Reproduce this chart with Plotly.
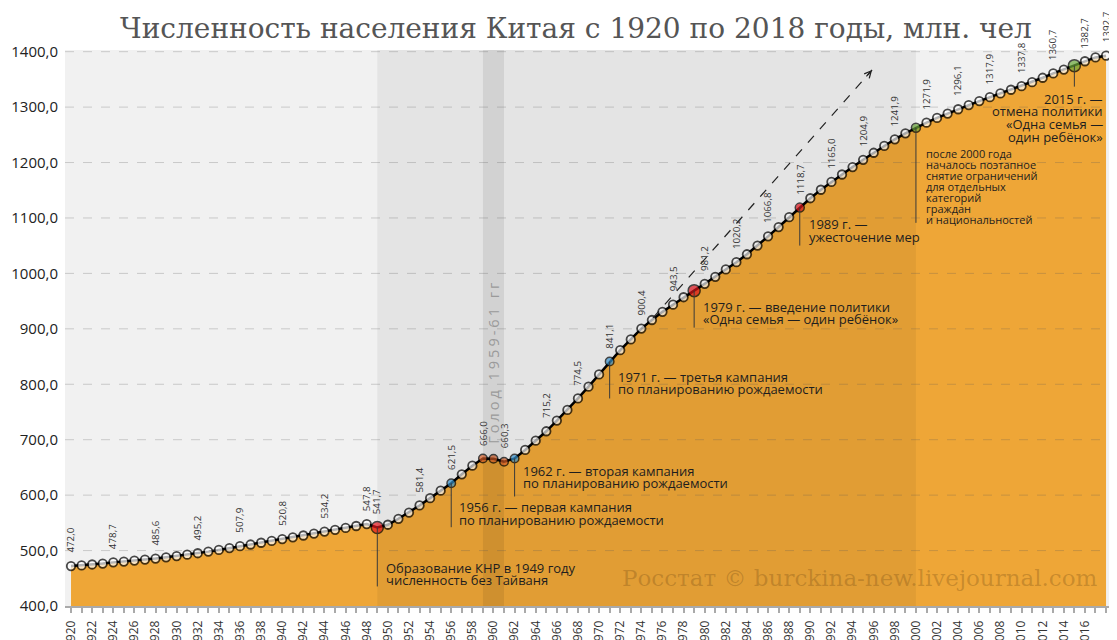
import plotly.graph_objects as go

# ---------------- data ----------------
years = list(range(1920, 2019))
population = [
    472.0, 473.2, 474.9, 476.6, 478.7, 480.2, 481.9, 483.7, 485.6, 487.8,   # 1920-1929
    490.1, 492.5, 495.2, 498.1, 501.2, 504.5, 507.9, 510.9, 514.1, 517.4,   # 1930-1939
    520.8, 523.9, 527.2, 530.6, 534.2, 537.5, 540.9, 544.3, 547.8, 541.7,   # 1940-1949
    546.6, 557.3, 568.6, 581.4, 594.6, 608.0, 621.5, 637.6, 653.1, 666.0,   # 1950-1959
    665.6, 660.3, 666.1, 681.5, 698.2, 715.2, 734.5, 753.8, 774.5, 795.6,   # 1960-1969
    817.7, 841.1, 861.5, 880.9, 900.4, 915.9, 930.6, 943.5, 957.0, 968.9,   # 1970-1979
    981.2, 993.8, 1007.2, 1020.2, 1034.5, 1050.2, 1066.8, 1083.6, 1101.5, 1118.7,  # 1980-1989
    1135.6, 1150.9, 1165.0, 1178.4, 1191.8, 1204.9, 1217.6, 1229.9, 1241.9, 1252.6,  # 1990-1999
    1262.6, 1271.9, 1280.4, 1288.4, 1296.1, 1303.7, 1310.8, 1317.9, 1324.7, 1331.3,  # 2000-2009
    1337.8, 1345.0, 1352.9, 1360.7, 1367.7, 1374.8, 1382.7, 1389.6, 1392.7,          # 2010-2018
]
label_years = [1920, 1924, 1928, 1932, 1936, 1940, 1944, 1948, 1949, 1953, 1956,
               1959, 1961, 1965, 1968, 1971, 1974, 1977, 1980, 1983, 1986, 1989,
               1992, 1995, 1998, 2001, 2004, 2007, 2010, 2013, 2016, 2018]
y_ticks = [400, 500, 600, 700, 800, 900, 1000, 1100, 1200, 1300, 1400]
y_tick_text = ["400,0", "500,0", "600,0", "700,0", "800,0", "900,0", "1000,0",
               "1100,0", "1200,0", "1300,0", "1400,0"]
x_tick_years = list(range(1920, 2019))

title_text = "Численность населения Китая с 1920 по 2018 годы, млн. чел"
watermark = "Росстат © burckina-new.livejournal.com"
famine_years = [1959, 1961]
famine_label = "Голод 1959-61 гг"
prc_period = [1949, 2000]

event_years = [1949, 1956, 1962, 1971, 1979, 1989, 2000, 2015]
event_texts = [
    ["Образование КНР в 1949 году", "численность без Тайваня"],
    ["1956 г. — первая кампания", "по планированию рождаемости"],
    ["1962 г. — вторая кампания", "по планированию рождаемости"],
    ["1971 г. — третья кампания", "по планированию рождаемости"],
    ["1979 г. — введение политики", "«Одна семья — один ребёнок»"],
    ["1989 г. —", "ужесточение мер"],
    ["после 2000 года", "началось поэтапное", "снятие ограничений",
     "для отдельных", "категорий", "граждан", "и национальностей"],
    ["2015 г. —", "отмена политики", "«Одна семья —", "один ребёнок»"],
]
trend_arrow = [(1975.1, 919.7), (1995.85, 1367.0)]

# ---------------- style / layout ----------------
# the page body adds an 8px offset; figure sized so the plot sits where the reference has it
W, H = 1101, 632
M_L, M_R, M_T, M_B = 57, 0, 42, 34
X_RANGE = [1919.43, 2018.28]
Y_RANGE = [400, 1403]
PLOT_H = H - M_T - M_B
PX_PER_Y = PLOT_H / (Y_RANGE[1] - Y_RANGE[0])

SANS = "Open Sans, Noto Sans, sans-serif"
SERIF = "DejaVu Serif, Liberation Serif, serif"
ORANGE = "#eea637"

pop = dict(zip(years, population))

marker_color_map = {1949: "#e8141c", 1979: "#e8141c", 1989: "#e8141c",
                    1956: "#3a9ad9", 1962: "#3a9ad9", 1971: "#3a9ad9",
                    1959: "#e2632a", 1960: "#e2632a", 1961: "#e2632a",
                    2000: "#6aa83a", 2015: "#6aa83a"}
marker_size_map = {1949: 12, 1979: 12, 1989: 9, 2000: 9, 2015: 12}
m_colors = [marker_color_map.get(y, "white") for y in years]
m_sizes = [marker_size_map.get(y, 8.5) for y in years]
m_lw = [1.5 if y in marker_color_map else 1.8 for y in years]

event_style = {
    1949: dict(dx=7, first=41, step=11.8, drop=59, size=13, anchor="left"),
    1956: dict(dx=6, first=24, step=12.6, drop=44, size=13, anchor="left"),
    1962: dict(dx=6, first=13, step=11.8, drop=38, size=13, anchor="left"),
    1971: dict(dx=6, first=16, step=11.8, drop=37, size=13, anchor="left"),
    1979: dict(dx=7, first=16, step=12.6, drop=37, size=13, anchor="left"),
    1989: dict(dx=7, first=16, step=13, drop=38, size=13, anchor="left"),
    2000: dict(dx=8, first=25.5, step=11, drop=95, size=11, anchor="left"),
    2015: dict(dx=31, first=33, step=12.8, drop=21, size=13, anchor="right"),
}

fig = go.Figure()

# area
fig.add_trace(go.Scatter(
    x=years, y=population, mode="lines", fill="tozeroy",
    fillcolor=ORANGE, line=dict(width=0, color=ORANGE),
    hoverinfo="skip", showlegend=False))
# line + markers
fig.add_trace(go.Scatter(
    x=years, y=population, mode="lines+markers",
    line=dict(color="black", width=2.5),
    marker=dict(color=m_colors, size=m_sizes, line=dict(color="black", width=m_lw)),
    showlegend=False))

shapes = []
shapes.append(dict(type="rect", xref="x", yref="paper", x0=prc_period[0], x1=prc_period[1],
                   y0=0, y1=1, fillcolor="rgba(0,0,0,0.05)", line=dict(width=0), layer="above"))
shapes.append(dict(type="rect", xref="x", yref="paper", x0=famine_years[0], x1=famine_years[1],
                   y0=0, y1=1, fillcolor="rgba(0,0,0,0.08)", line=dict(width=0), layer="above"))
for v in y_ticks[1:]:
    shapes.append(dict(type="line", xref="paper", yref="y", x0=0, x1=1, y0=v, y1=v,
                       line=dict(color="rgba(90,90,90,0.26)", width=1, dash="dash"),
                       layer="above"))
for yr in event_years:
    st = event_style[yr]
    v = pop[yr]
    shapes.append(dict(type="line", xref="x", yref="y", x0=yr, x1=yr,
                       y0=v, y1=v - st["drop"] / PX_PER_Y,
                       line=dict(color="#3a3a3a", width=1), layer="above"))
shapes.append(dict(type="line", xref="x", yref="y",
                   x0=trend_arrow[0][0], y0=trend_arrow[0][1],
                   x1=trend_arrow[1][0], y1=trend_arrow[1][1],
                   line=dict(color="#222", width=1.2, dash="dash"), layer="above"))

annotations = []
for yr in label_years:
    v = pop[yr]
    annotations.append(dict(x=yr, y=v, xref="x", yref="y", text=f"{v:.1f}".replace(".", ","),
                            textangle=-90, showarrow=False, xanchor="center", yanchor="bottom",
                            yshift=11, font=dict(family=SANS, size=9.8, color="#333")))
for yr, lines in zip(event_years, event_texts):
    st = event_style[yr]
    v = pop[yr]
    for i, ln in enumerate(lines):
        annotations.append(dict(x=yr, y=v, xref="x", yref="y", text=ln, showarrow=False,
                                xanchor=st["anchor"], yanchor="middle", align=st["anchor"],
                                xshift=st["dx"], yshift=-(st["first"] + i * st["step"]),
                                font=dict(family=SANS, size=st["size"], color="#1e1e1e")))
annotations.append(dict(x=trend_arrow[1][0], y=trend_arrow[1][1], xref="x", yref="y",
                        ax=-7, ay=8, text="", showarrow=True, arrowhead=5, arrowsize=1.1,
                        arrowwidth=1.2, arrowcolor="#222"))
annotations.append(dict(x=sum(famine_years) / 2, y=0.44, xref="x", yref="paper",
                        text='<span style="letter-spacing:3px">' + famine_label + '</span>',
                        textangle=-90, showarrow=False,
                        font=dict(family=SANS, size=14.5, color="#9a9a9a")))
annotations.append(dict(x=0.991, y=0.05, xref="paper", yref="paper", text=watermark,
                        showarrow=False, xanchor="right", yanchor="middle",
                        font=dict(family=SERIF, size=23, color="rgba(120,80,20,0.32)")))

fig.update_layout(
    width=W, height=H,
    margin=dict(l=M_L, r=M_R, t=M_T, b=M_B, autoexpand=False),
    paper_bgcolor="white", plot_bgcolor="#f1f1f1",
    title=dict(text=title_text, x=(576 - 8) / W, xref="container", xanchor="center",
               y=1 - 20 / H, yref="container", yanchor="middle",
               font=dict(family=SERIF, size=28, color="#555")),
    shapes=shapes, annotations=annotations,
    showlegend=False,
)
fig.update_xaxes(range=X_RANGE, tickmode="array", tickvals=x_tick_years,
                 ticktext=[str(y) if y % 2 == 0 else "" for y in x_tick_years],
                 tickangle=-90, ticks="outside", ticklen=5, tickcolor="#aaa", tickwidth=1.5,
                 showline=True, linecolor="#aaa", linewidth=1.5, showgrid=False, zeroline=False,
                 tickfont=dict(family=SANS, size=12, color="#333"), automargin=False,
                 ticklabelstandoff=3)
fig.update_yaxes(range=Y_RANGE, tickmode="array", tickvals=y_ticks, ticktext=y_tick_text,
                 showgrid=False, zeroline=False, showline=False, ticks="",
                 tickfont=dict(family=SANS, size=15, color="#222"), automargin=False,
                 ticklabelstandoff=6)

fig.write_html("out.html")
